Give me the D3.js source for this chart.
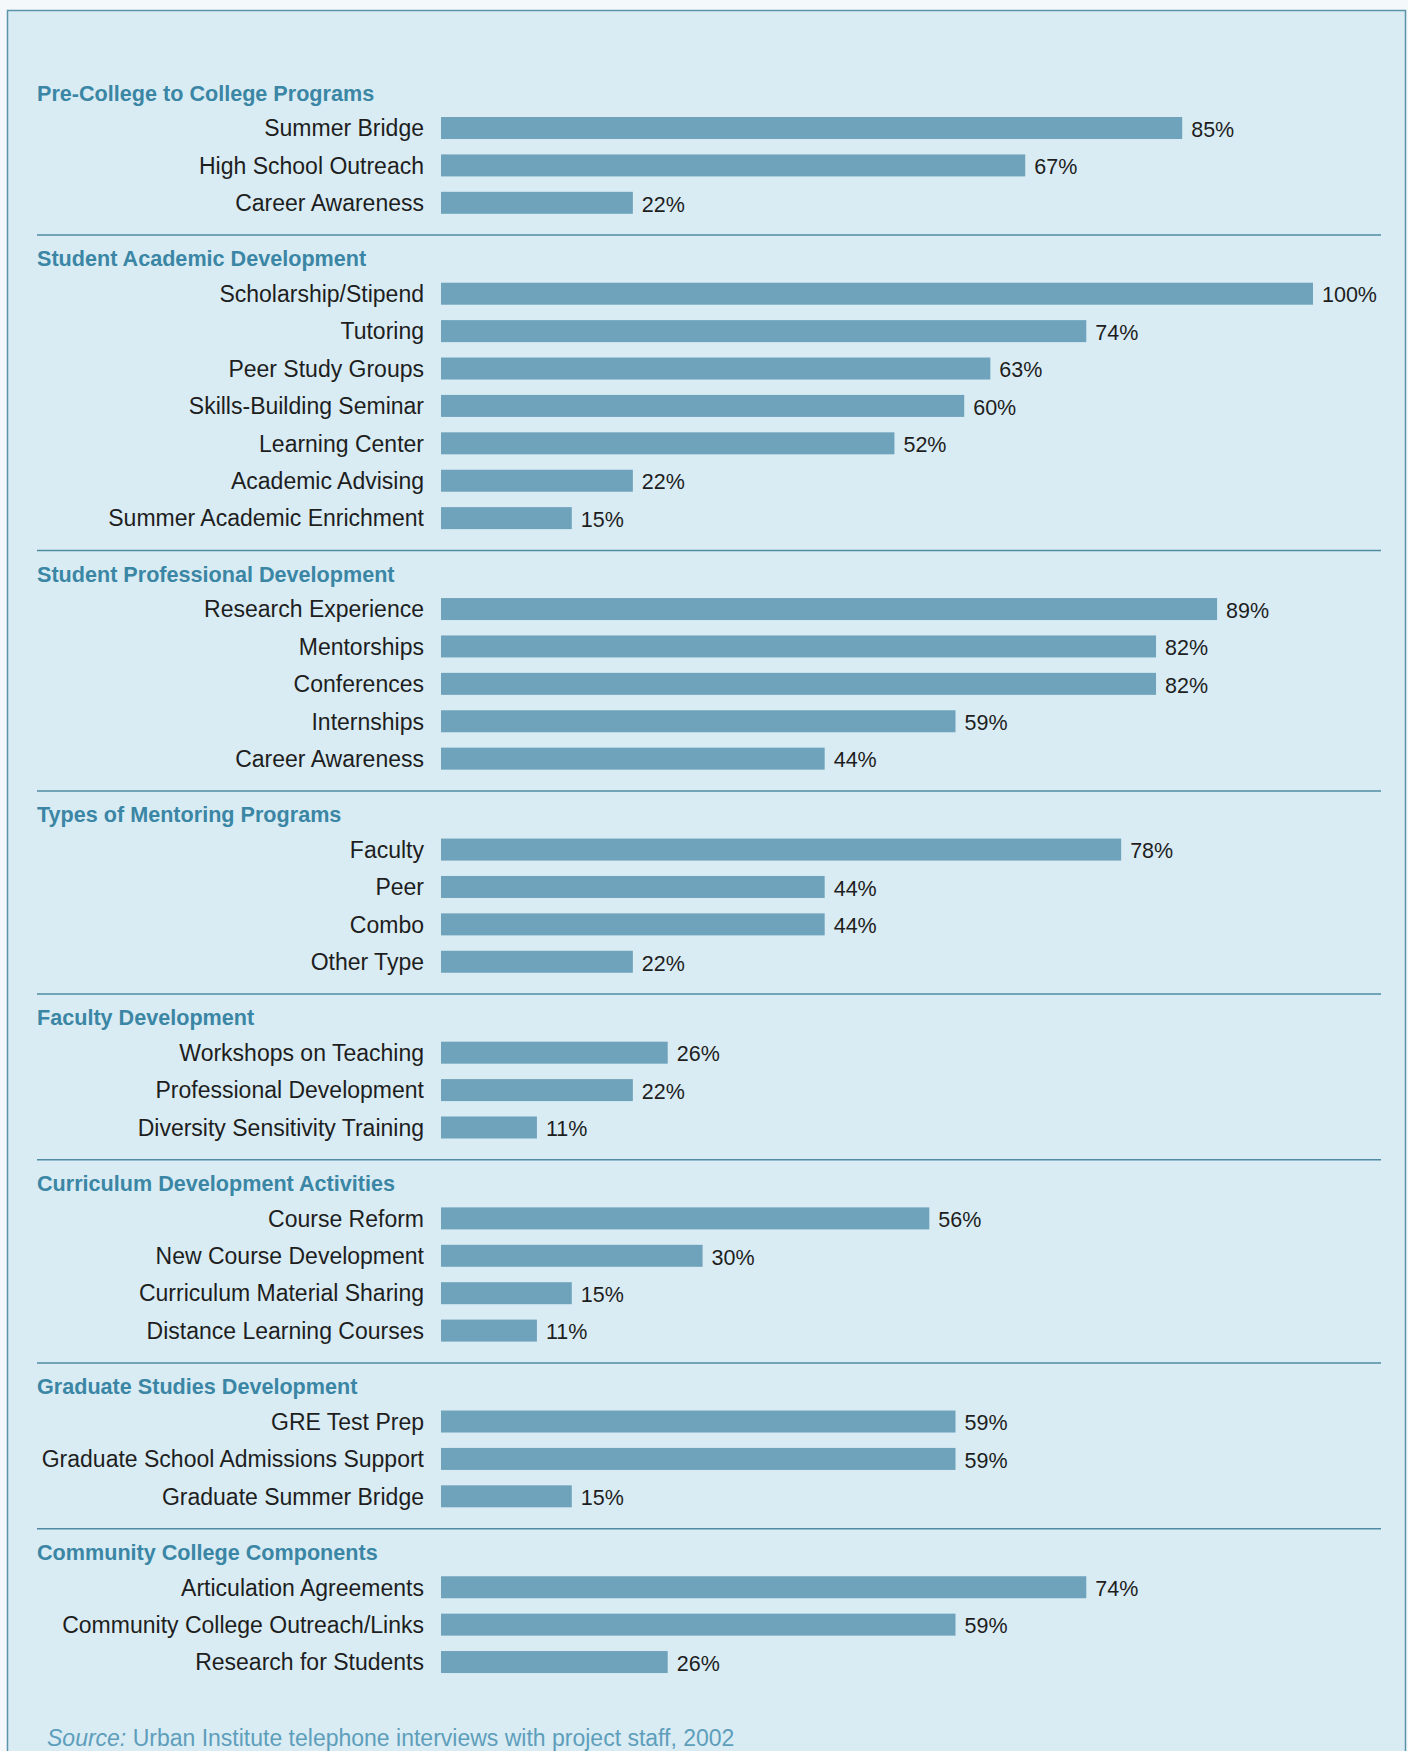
<!DOCTYPE html>
<html>
<head>
<meta charset="utf-8">
<script src="https://cdn.jsdelivr.net/npm/d3@7"></script>
<style>
  html, body { margin: 0; padding: 0; background: #f4f8fa; }
  svg { display: block; }
</style>
</head>
<body>
<svg id="chart" width="1408" height="1751"></svg>
<script>
// ---------------- DATA ----------------
const groupTitles = [
  "Pre-College to College Programs",
  "Student Academic Development",
  "Student Professional Development",
  "Types of Mentoring Programs",
  "Faculty Development",
  "Curriculum Development Activities",
  "Graduate Studies Development",
  "Community College Components"
];
const categories = [
  "Summer Bridge", "High School Outreach", "Career Awareness",
  "Scholarship/Stipend", "Tutoring", "Peer Study Groups", "Skills-Building Seminar", "Learning Center", "Academic Advising", "Summer Academic Enrichment",
  "Research Experience", "Mentorships", "Conferences", "Internships", "Career Awareness",
  "Faculty", "Peer", "Combo", "Other Type",
  "Workshops on Teaching", "Professional Development", "Diversity Sensitivity Training",
  "Course Reform", "New Course Development", "Curriculum Material Sharing", "Distance Learning Courses",
  "GRE Test Prep", "Graduate School Admissions Support", "Graduate Summer Bridge",
  "Articulation Agreements", "Community College Outreach/Links", "Research for Students"
];
const values = [
  85, 67, 22,
  100, 74, 63, 60, 52, 22, 15,
  89, 82, 82, 59, 44,
  78, 44, 44, 22,
  26, 22, 11,
  56, 30, 15, 11,
  59, 59, 15,
  74, 59, 26
];
const groupIndex = [
  0, 0, 0,
  1, 1, 1, 1, 1, 1, 1,
  2, 2, 2, 2, 2,
  3, 3, 3, 3,
  4, 4, 4,
  5, 5, 5, 5,
  6, 6, 6,
  7, 7, 7
];
const sourceLabel = "Source:";
const sourceText = " Urban Institute telephone interviews with project staff, 2002";

// ---------------- LAYOUT (in row units) ----------------
const TITLE_TO_ROW = 0.936, ROW_TO_SEP = 0.864, SEP_TO_TITLE = 0.631;
const titlePos = [], rowPos = [], sepPos = [];
let pos = 0;
groupTitles.forEach((t, g) => {
  if (g > 0) { pos += ROW_TO_SEP; sepPos.push(pos); pos += SEP_TO_TITLE; }
  titlePos.push(pos);
  pos += TITLE_TO_ROW;
  let first = true;
  categories.forEach((c, i) => {
    if (groupIndex[i] !== g) return;
    if (!first) pos += 1;
    first = false;
    rowPos.push(pos);
  });
});

const svg = d3.select("#chart");
const y = d3.scaleLinear().domain([0, 1]).range([93, 93 + 37.4]);
const x = d3.scaleLinear().domain([0, 100]).range([441, 1313]);

const FONT = "'Liberation Sans', Arial, Helvetica, sans-serif";

// panel
svg.append("rect")
  .attr("x", 7.5).attr("y", 10.5)
  .attr("width", 1398).attr("height", 1760)
  .attr("fill", "#d9ecf4")
  .attr("stroke", "#5b94aa").attr("stroke-width", 1.5);

// separators
svg.append("g").selectAll("line").data(sepPos).join("line")
  .attr("x1", 37).attr("x2", 1381)
  .attr("y1", d => y(d)).attr("y2", d => y(d))
  .attr("stroke", "#4f8ca3").attr("stroke-width", 1.5);

// group titles
svg.append("g").selectAll("text").data(groupTitles).join("text")
  .attr("x", 37)
  .attr("y", (d, i) => y(titlePos[i]))
  .attr("dy", "0.36em")
  .attr("font-family", FONT)
  .attr("font-weight", "bold")
  .attr("font-size", 21.6)
  .attr("fill", "#3a86a4")
  .text(d => d);

const rows = categories.map((c, i) => ({ label: c, value: values[i], p: rowPos[i] }));

// bars
const BAR_H = 22;
svg.append("g").selectAll("rect").data(rows).join("rect")
  .attr("x", x(0))
  .attr("y", d => y(d.p) - BAR_H / 2)
  .attr("width", d => x(d.value) - x(0))
  .attr("height", BAR_H)
  .attr("fill", "#6fa3bb");

// category labels
svg.append("g").selectAll("text").data(rows).join("text")
  .attr("x", 424)
  .attr("y", d => y(d.p))
  .attr("dy", "0.36em")
  .attr("text-anchor", "end")
  .attr("font-family", FONT)
  .attr("font-size", 23)
  .attr("fill", "#1e1e1e")
  .text(d => d.label);

// value labels
svg.append("g").selectAll("text").data(rows).join("text")
  .attr("x", d => x(d.value) + 9)
  .attr("y", d => y(d.p) + 1)
  .attr("dy", "0.36em")
  .attr("font-family", FONT)
  .attr("font-size", 21.5)
  .attr("fill", "#1e1e1e")
  .text(d => d.value + "%");

// source
const src = svg.append("text")
  .attr("x", 47).attr("y", 1738)
  .attr("dy", "0.36em")
  .attr("font-family", FONT)
  .attr("font-size", 23)
  .attr("fill", "#5e9ebb");
src.append("tspan").attr("font-style", "italic").text(sourceLabel);
src.append("tspan").text(sourceText);
</script>
</body>
</html>
